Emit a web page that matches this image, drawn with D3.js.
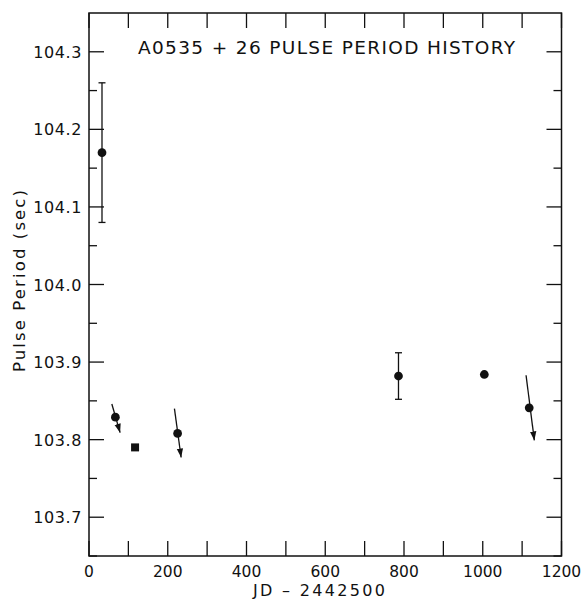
<!DOCTYPE html>
<html>
<head>
<meta charset="utf-8">
<script src="https://cdn.jsdelivr.net/npm/d3@7"></script>
<style>
  html, body { margin: 0; padding: 0; background: #fff; }
  svg { display: block; }
  text { font-family: "DejaVu Sans", sans-serif; fill: #111; }
</style>
</head>
<body>
<svg id="chart" width="582" height="600"></svg>
<script>
// ---- data ----
const days = [33, 67, 117, 225, 786, 1004, 1118];
const periods = [104.17, 103.829, 103.790, 103.808, 103.882, 103.884, 103.841];
const errors = [0.09, 0, 0, 0, 0.03, 0, 0];
const markers = ["circle", "circle", "square", "circle", "circle", "circle", "circle"];

// upper-limit arrows (start and tip, in data units)
const limitDayFrom = [58, 217, 1110];
const limitDayTo = [79, 234, 1131];
const limitPeriodFrom = [103.846, 103.840, 103.883];
const limitPeriodTo = [103.809, 103.777, 103.799];

const xTickValues = [0, 100, 200, 300, 400, 500, 600, 700, 800, 900, 1000, 1100, 1200];
const xTickLabels = ["0", "200", "400", "600", "800", "1000", "1200"];
const yMajorTicks = [103.7, 103.8, 103.9, 104.0, 104.1, 104.2, 104.3];
const yTickLabels = ["103.7", "103.8", "103.9", "104.0", "104.1", "104.2", "104.3"];
const yMinorTicks = [103.65, 103.75, 103.85, 103.95, 104.05, 104.15, 104.25];

const title = "A0535 + 26 PULSE PERIOD HISTORY";
const xTitle = "JD \u2013 2442500";
const yTitle = "Pulse Period (sec)";

// ---- layout ----
const margin = { left: 89, top: 13, right: 20, bottom: 44 };
const W = 582, H = 600;
const svg = d3.select("#chart");

const x = d3.scaleLinear().domain([0, 1200]).range([margin.left, W - margin.right - 0.5]);
const y = d3.scaleLinear().domain([103.65, 104.35]).range([H - margin.bottom, margin.top]);

const ink = "#111";
const majorLen = 15, minorLen = 8, xTickLen = 15;

svg.append("defs").append("marker")
  .attr("id", "arrow")
  .attr("viewBox", "0 0 10 10")
  .attr("refX", 10).attr("refY", 5)
  .attr("markerWidth", 9).attr("markerHeight", 9)
  .attr("markerUnits", "userSpaceOnUse")
  .attr("orient", "auto")
  .append("path")
  .attr("d", "M0,1.5 L10,5 L0,8.5 Z")
  .attr("fill", ink);

// frame
svg.append("rect")
  .attr("x", x(0)).attr("y", y(104.35))
  .attr("width", x(1200) - x(0)).attr("height", y(103.65) - y(104.35))
  .attr("fill", "none").attr("stroke", ink).attr("stroke-width", 1.5);

const g = svg.append("g").attr("stroke", ink).attr("stroke-width", 1.3);

// x ticks (bottom and top, inward)
g.selectAll(".xb").data(xTickValues).join("line")
  .attr("x1", d => x(d)).attr("x2", d => x(d))
  .attr("y1", y(103.65)).attr("y2", y(103.65) - xTickLen);
g.selectAll(".xt").data(xTickValues).join("line")
  .attr("x1", d => x(d)).attr("x2", d => x(d))
  .attr("y1", y(104.35)).attr("y2", y(104.35) + xTickLen);

// y ticks, left and right
[[x(0), 1], [x(1200), -1]].forEach(([x0, dir]) => {
  g.append("g").selectAll("line").data(yMajorTicks).join("line")
    .attr("x1", x0).attr("x2", x0 + dir * majorLen)
    .attr("y1", d => y(d)).attr("y2", d => y(d));
  g.append("g").selectAll("line").data(yMinorTicks).join("line")
    .attr("x1", x0).attr("x2", x0 + dir * minorLen)
    .attr("y1", d => y(d)).attr("y2", d => y(d));
});

// tick labels
svg.selectAll(".xl").data(xTickLabels).join("text")
  .attr("x", d => x(+d)).attr("y", 577)
  .attr("text-anchor", "middle")
  .attr("font-size", 15.5)
  .text(d => d);

svg.selectAll(".yl").data(yTickLabels).join("text")
  .attr("x", x(0) - 7).attr("y", d => y(+d) + 6)
  .attr("text-anchor", "end")
  .attr("font-size", 16).attr("letter-spacing", 0.6)
  .text(d => d);

// titles
svg.append("text")
  .attr("x", 138).attr("y", 54)
  .attr("font-size", 18.5)
  .attr("textLength", 377).attr("lengthAdjust", "spacing")
  .text(title);

svg.append("text")
  .attr("x", 319).attr("y", 596)
  .attr("text-anchor", "middle")
  .attr("font-size", 16)
  .attr("textLength", 132).attr("lengthAdjust", "spacing")
  .text(xTitle);

svg.append("text")
  .attr("transform", "translate(25,281) rotate(-90)")
  .attr("text-anchor", "middle")
  .attr("font-size", 16.5)
  .attr("textLength", 182).attr("lengthAdjust", "spacing")
  .text(yTitle);

// data
const pts = days.map((d, i) => ({ d, p: periods[i], e: errors[i], m: markers[i] }));

// error bars
const eb = svg.append("g").attr("stroke", ink).attr("stroke-width", 1.3);
pts.filter(o => o.e > 0).forEach(o => {
  eb.append("line").attr("x1", x(o.d)).attr("x2", x(o.d))
    .attr("y1", y(o.p - o.e)).attr("y2", y(o.p + o.e));
  [o.p - o.e, o.p + o.e].forEach(v => {
    eb.append("line").attr("x1", x(o.d) - 3.5).attr("x2", x(o.d) + 3.5)
      .attr("y1", y(v)).attr("y2", y(v));
  });
});

// upper-limit arrows
svg.append("g").selectAll("line").data(limitDayFrom).join("line")
  .attr("x1", (d, i) => x(limitDayFrom[i]))
  .attr("y1", (d, i) => y(limitPeriodFrom[i]))
  .attr("x2", (d, i) => x(limitDayTo[i]))
  .attr("y2", (d, i) => y(limitPeriodTo[i]))
  .attr("stroke", ink).attr("stroke-width", 1.3)
  .attr("marker-end", "url(#arrow)");

// markers
svg.append("g").selectAll("path").data(pts).join("path")
  .attr("transform", o => `translate(${x(o.d)},${y(o.p)})`)
  .attr("d", o => o.m === "square"
    ? d3.symbol(d3.symbolSquare, 64)()
    : d3.symbol(d3.symbolCircle, 60)())
  .attr("fill", ink);
</script>
</body>
</html>
